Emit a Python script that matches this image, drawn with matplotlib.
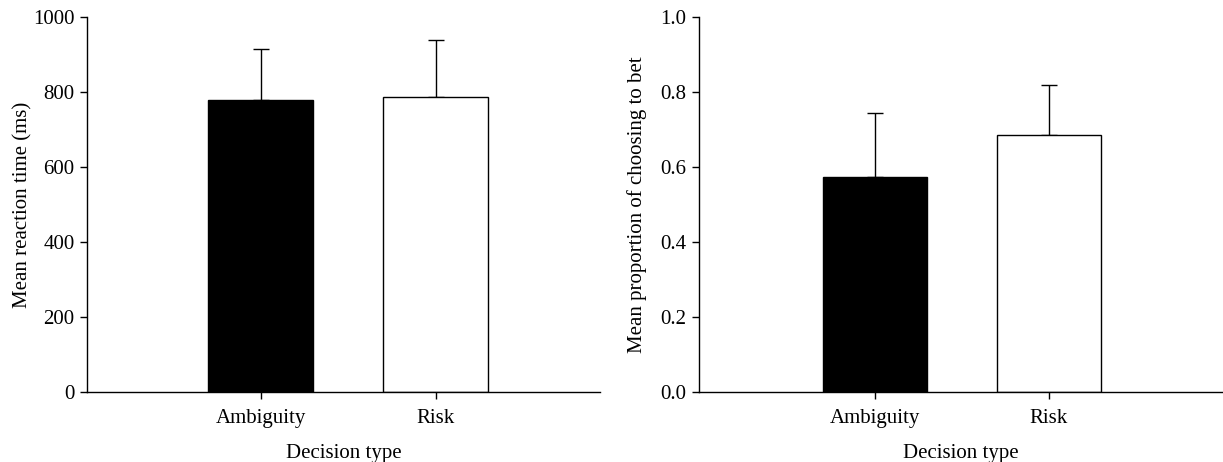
import numpy as np
import matplotlib
matplotlib.use("Agg")
import matplotlib.pyplot as plt

# Data
categories = ["Ambiguity", "Risk"]
rt_mean = [779, 788]
rt_err = [135, 151]
bet_mean = [0.573, 0.686]
bet_err = [0.171, 0.132]

bar_colors = ["black", "white"]

plt.rcParams["font.family"] = ["Liberation Serif", "DejaVu Serif"]
plt.rcParams["font.size"] = 15

fig = plt.figure(figsize=(12.23, 4.62), dpi=100)
ax1 = fig.add_axes([0.0711, 0.1515, 0.4195, 0.8115])
ax2 = fig.add_axes([0.5715, 0.1515, 0.4285, 0.8115])

def draw_panel(ax, means, errs, ylim, yticks, fmt, ylabel, xlim, ypad):
    x = np.arange(len(categories))
    ax.bar(x, means, width=0.6, color=bar_colors, edgecolor="black", linewidth=1.0, zorder=2)
    ax.errorbar(x, means, yerr=[np.zeros(len(errs)), errs], fmt="none",
                ecolor="black", elinewidth=1.0, capsize=5.5, capthick=1.0, zorder=1)
    ax.set_xlim(*xlim)
    ax.set_ylim(*ylim)
    ax.set_xticks(x)
    ax.set_xticklabels(categories)
    ax.set_yticks(yticks)
    ax.set_yticklabels([fmt.format(v) for v in yticks])
    ax.spines["top"].set_visible(False)
    ax.spines["right"].set_visible(False)
    for s in ["left", "bottom"]:
        ax.spines[s].set_linewidth(1.0)
    ax.tick_params(direction="out", length=5, width=1.0, labelsize=15)
    ax.tick_params(axis="x", pad=7.5)
    ax.tick_params(axis="y", pad=4)
    ax.set_xlabel("Decision type", fontsize=15, labelpad=11)
    ax.set_ylabel(ylabel, fontsize=15, labelpad=ypad)

draw_panel(ax1, rt_mean, rt_err, (0, 1000), np.arange(0, 1001, 200), "{:.0f}",
           "Mean reaction time (ms)", (-0.995, 1.94), 0)
draw_panel(ax2, bet_mean, bet_err, (0, 1.0), np.arange(0, 1.01, 0.2), "{:.1f}",
           "Mean proportion of choosing to bet", (-1.01, 2.0), 9.5)

fig.savefig("out.png", dpi=100)
